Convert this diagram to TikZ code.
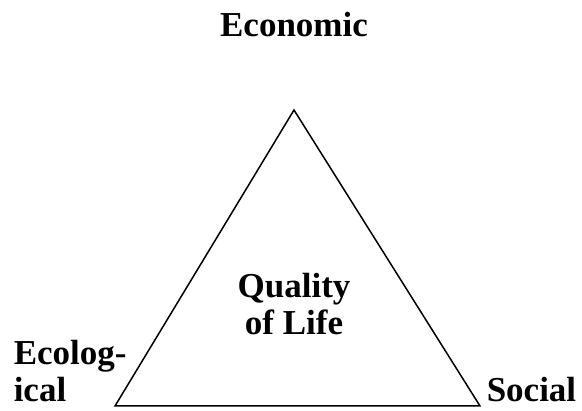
\documentclass[tikz,border=0pt]{standalone}
\usepackage{fontspec}
\setmainfont{Liberation Serif}
\usetikzlibrary{positioning}
\tikzset{%
  pillar/.style = {font=\fontsize{35}{37}\selectfont\bfseries,%
                   inner sep=0pt, align=center},%
  side/.style   = {pillar, align=left, anchor=base west}%
}

\begin{document}
\begin{tikzpicture}[x=1pt, y=-1pt, line width=1.5pt]
              \useasboundingbox (0,0) rectangle (582,411);
              \coordinate (apex)  at (294,110);
              \coordinate (left)  at (115,406);
              \coordinate (right) at (480,406);
              \draw (apex) -- (left) -- (right) -- cycle;
              \node [pillar, anchor=base] (econ) at (294,37) {Economic};
              \node [pillar, anchor=base] (qol) at (294,335) {Quality\\of Life};
              \node [side] (ecol) at (13,402) {Ecolog-\\ical};
              \node [side] (soc) at (486,402) {Social};
        \end{tikzpicture}
\end{document}
